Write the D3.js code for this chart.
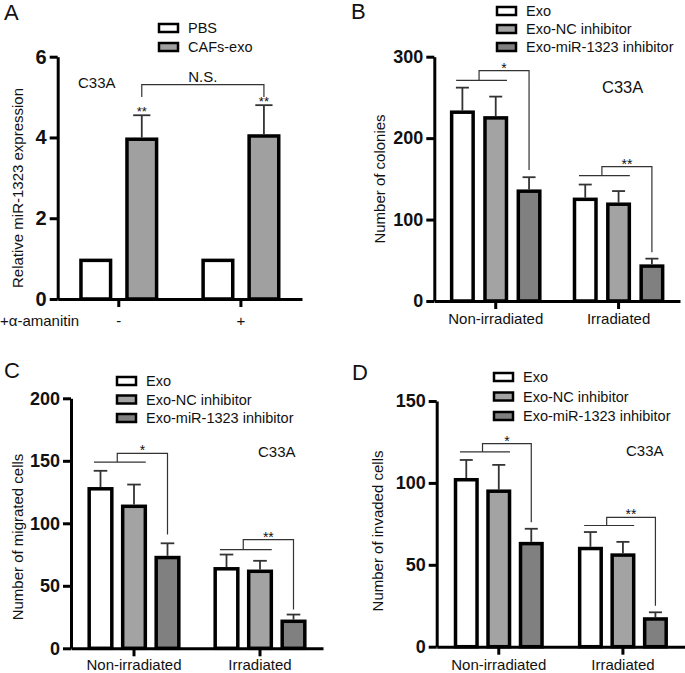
<!DOCTYPE html>
<html>
<head>
<meta charset="utf-8">
<script src="https://cdnjs.cloudflare.com/ajax/libs/d3/7.8.5/d3.min.js"></script>
<style>
body { margin: 0; background: #fff; }
text { font-family: "Liberation Sans", Arial, sans-serif; fill: #111; }
</style>
</head>
<body>
<svg id="fig" width="685" height="673"></svg>
<script>
// ---- panel A data
var aGroups = ["-", "+"];
var aSeries = ["PBS", "CAFs-exo"];
var aMean = [[1, 4.0], [1, 4.08]];
var aSd = [[0, 0.55], [0, 0.72]];
var aTicks = [0, 2, 4, 6];

// ---- panels B-D share groups and series
var groups = ["Non-irradiated", "Irradiated"];
var series = ["Exo", "Exo-NC inhibitor", "Exo-miR-1323 inhibitor"];

var bMean = [[234, 227, 137], [127, 121, 45]];
var bSd = [[28, 24, 15], [16, 14, 7]];
var bTicks = [0, 100, 200, 300];
// significance brackets, in data units: low bar, top bar, drop-to
var bBrackets = [[271, 283, 161, "*"], [154, 165, 60, "**"]];

var cMean = [[129, 115, 74], [65, 63, 23]];
var cSd = [[13, 16, 10], [10, 7, 4]];
var cTicks = [0, 50, 100, 150, 200];
var cBrackets = [[149, 156, 91, "*"], [79, 87, 31, "**"]];

var dMean = [[103, 96, 64], [61, 57, 18]];
var dSd = [[11, 15, 8], [9, 7, 3]];
var dTicks = [0, 50, 100, 150];
var dBrackets = [[119, 124, 76, "*"], [74, 79, 25, "**"]];

var fills3 = ["#ffffff", "#a3a3a3", "#808080"];
var fills2 = ["#ffffff", "#a0a0a0"];

var svg = d3.select("#fig");

function panel(o) {
    var g = svg.append("g");

    var y = d3.scaleLinear().domain([0, o.max]).range([o.bottom, o.top]);
    var outer = d3.scaleBand().domain(o.groups).range([o.left, o.right]);
    var inner = d3.scaleBand().domain(o.series)
        .range([-o.innerW / 2, o.innerW / 2])
        .paddingInner(o.pad).paddingOuter(o.pad / 2);
    var bw = inner.bandwidth();
    var sw = 3.5;

    function cx(gi, si) {
        return outer(o.groups[gi]) + outer.bandwidth() / 2 + inner(o.series[si]) + bw / 2;
    }

    // bars
    o.mean.forEach(function(row, gi) {
        row.forEach(function(v, si) {
            var x = cx(gi, si);
            var top = y(v);
            var sd = o.sd[gi][si];
            if (sd > 0) {
                g.append("line")
                    .attr("x1", x).attr("x2", x)
                    .attr("y1", top).attr("y2", y(v + sd))
                    .attr("stroke", "#333").attr("stroke-width", 1.8);
                g.append("line")
                    .attr("x1", x - bw * 0.26).attr("x2", x + bw * 0.26)
                    .attr("y1", y(v + sd)).attr("y2", y(v + sd))
                    .attr("stroke", "#333").attr("stroke-width", 1.8);
            }
            g.append("rect")
                .attr("x", x - bw / 2 + sw / 2)
                .attr("width", bw - sw)
                .attr("y", top + sw / 2)
                .attr("height", y(0) - top - sw / 2)
                .attr("fill", o.fills[si])
                .attr("stroke", "#000")
                .attr("stroke-width", sw);
        });
    });

    // axes
    var yAxis = g.append("g")
        .attr("transform", "translate(" + o.left + ",0)")
        .call(d3.axisLeft(y).tickValues(o.ticks).tickFormat(d3.format("d"))
            .tickSize(8).tickSizeOuter(0).tickPadding(3));
    yAxis.selectAll("text")
        .style("font-size", o.tickFont + "px").style("font-weight", "bold")
        .attr("fill", "#111");

    var xAxis = g.append("g")
        .attr("transform", "translate(0," + o.bottom + ")")
        .call(d3.axisBottom(outer).tickSize(8).tickSizeOuter(0).tickPadding(o.xPad));
    xAxis.selectAll("text")
        .style("font-size", "15px").attr("fill", "#111");

    g.selectAll(".domain").attr("stroke", "#000").attr("stroke-width", 3);
    g.selectAll(".tick line").attr("stroke", "#000").attr("stroke-width", 3);

    // brackets
    if (o.brackets) {
        o.brackets.forEach(function(b, gi) {
            var x0 = cx(gi, 0), x1 = cx(gi, 1), x2 = cx(gi, 2);
            var mid = (x0 + x1) / 2;
            g.append("line")
                .attr("x1", x0 - bw * 0.25).attr("x2", x1 + bw * 0.45)
                .attr("y1", y(b[0])).attr("y2", y(b[0]))
                .attr("stroke", "#333").attr("stroke-width", 1.2);
            g.append("path")
                .attr("d", "M" + mid + "," + y(b[0]) + "V" + y(b[1]) + "H" + x2 + "V" + y(b[2]))
                .attr("fill", "none").attr("stroke", "#333").attr("stroke-width", 1.2);
            g.append("text")
                .attr("x", (mid + x2) / 2).attr("y", y(b[1]) + 2)
                .attr("text-anchor", "middle")
                .style("font-size", "14px")
                .text(b[3]);
        });
    }

    // y label
    g.append("text")
        .attr("transform", "translate(" + o.ylabX + "," + o.ylabY + ") rotate(-90)")
        .attr("text-anchor", "middle")
        .style("font-size", "15px")
        .text(o.ylabel);

    // panel letter
    g.append("text")
        .attr("x", o.letterX).attr("y", o.letterY)
        .style("font-size", "22px")
        .text(o.letter);

    // cell line
    g.append("text")
        .attr("x", o.cellX).attr("y", o.cellY)
        .style("font-size", o.cellFont + "px")
        .text("C33A");

    // legend
    o.series.forEach(function(s, i) {
        var yy = o.legY + i * o.legStep;
        g.append("rect")
            .attr("x", o.legX).attr("y", yy - 8)
            .attr("width", 19).attr("height", 8)
            .attr("fill", o.fills[i])
            .attr("stroke", "#000").attr("stroke-width", 2.5);
        g.append("text")
            .attr("x", o.legX + 29).attr("y", yy + 1)
            .style("font-size", "14.5px")
            .text(s);
    });

    return {g: g, y: y, cx: cx};
}

// ---- A
var pa = panel({
    left: 57.7, right: 302, top: 56.7, bottom: 299, max: 6, ticks: aTicks,
    groups: aGroups, series: aSeries, mean: aMean, sd: aSd, fills: fills2,
    innerW: 92, pad: 0.28, tickFont: 20, xPad: 8,
    ylabel: "Relative miR-1323 expression", ylabX: 23, ylabY: 188,
    letter: "A", letterX: 4, letterY: 20,
    cellX: 78, cellY: 88, cellFont: 15,
    legX: 159, legY: 32, legStep: 19
});
// N.S. bracket across the two CAFs-exo bars
(function() {
    var xa = pa.cx(0, 1), xb = pa.cx(1, 1), y = pa.y;
    pa.g.append("path")
        .attr("d", "M" + xa + "," + y(5.0) + "V" + y(5.31) + "H" + xb + "V" + y(5.0))
        .attr("fill", "none").attr("stroke", "#333").attr("stroke-width", 1.2);
    pa.g.append("text")
        .attr("x", (xa + xb) / 2).attr("y", y(5.31) - 3)
        .attr("text-anchor", "middle").style("font-size", "15px")
        .text("N.S.");
    aMean.forEach(function(row, gi) {
        pa.g.append("text")
            .attr("x", pa.cx(gi, 1)).attr("y", y(row[1] + aSd[gi][1]) + 1)
            .attr("text-anchor", "middle").style("font-size", "13px")
            .text("**");
    });
    pa.g.append("text")
        .attr("x", 0).attr("y", 326)
        .style("font-size", "15px")
        .text("+α-amanitin");
})();

// ---- B
panel({
    left: 434.3, right: 680, top: 56.7, bottom: 301, max: 300, ticks: bTicks,
    groups: groups, series: series, mean: bMean, sd: bSd, fills: fills3,
    innerW: 100, pad: 0.25, tickFont: 18, xPad: 4,
    brackets: bBrackets,
    ylabel: "Number of colonies", ylabX: 385, ylabY: 179,
    letter: "B", letterX: 351, letterY: 19,
    cellX: 602, cellY: 93, cellFont: 16.5,
    legX: 497, legY: 15, legStep: 18
});

// ---- C
panel({
    left: 71, right: 323, top: 398.3, bottom: 648.3, max: 200, ticks: cTicks,
    groups: groups, series: series, mean: cMean, sd: cSd, fills: fills3,
    innerW: 100.5, pad: 0.22, tickFont: 18, xPad: 3.5,
    brackets: cBrackets,
    ylabel: "Number of migrated cells", ylabX: 23, ylabY: 537,
    letter: "C", letterX: 4, letterY: 378,
    cellX: 258, cellY: 457, cellFont: 15,
    legX: 117, legY: 385, legStep: 18.5
});

// ---- D
panel({
    left: 436.7, right: 685, top: 401, bottom: 646.7, max: 150, ticks: dTicks,
    groups: groups, series: series, mean: dMean, sd: dSd, fills: fills3,
    innerW: 97.5, pad: 0.23, tickFont: 18, xPad: 4.5,
    brackets: dBrackets,
    ylabel: "Number of invaded cells", ylabX: 383, ylabY: 531,
    letter: "D", letterX: 352, letterY: 380,
    cellX: 626, cellY: 456, cellFont: 15,
    legX: 494, legY: 381, legStep: 19.5
});
</script>
</body>
</html>
